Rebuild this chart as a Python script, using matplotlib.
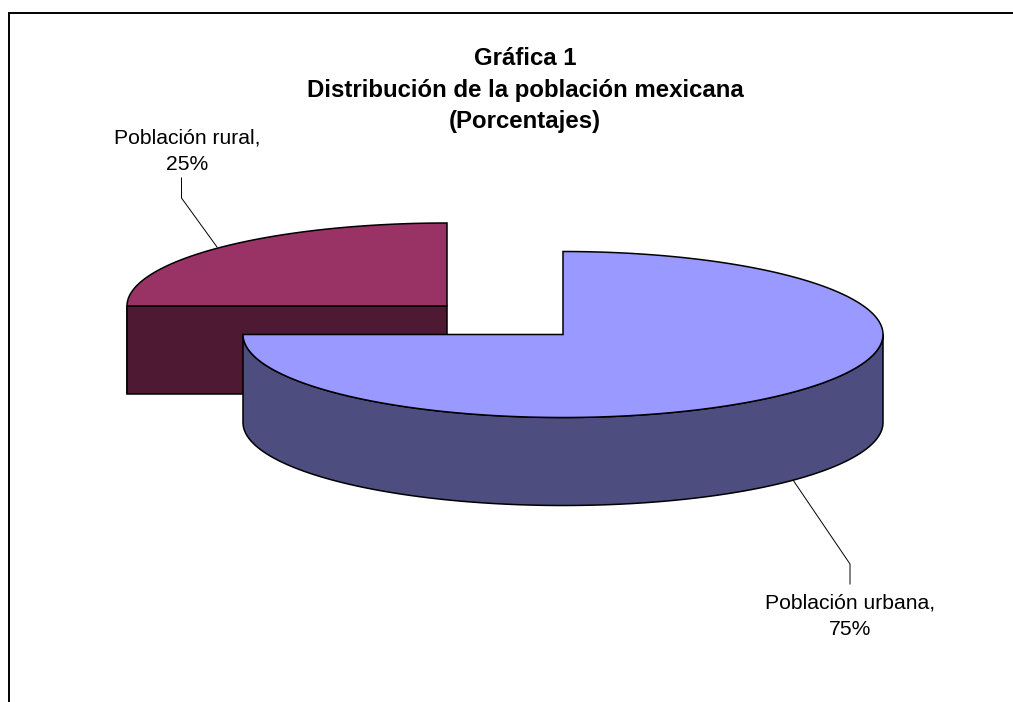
import numpy as np
import matplotlib
matplotlib.use('Agg')
import matplotlib.pyplot as plt
from matplotlib.patches import Polygon

plt.rcParams['font.family'] = ['Liberation Sans', 'DejaVu Sans']

# Data
labels = ['Población urbana,\n75%', 'Población rural,\n25%']
shares = [75, 25]
top_colors = ['#9999ff', '#993366']
side_colors = ['#4d4d80', '#4d1933']

title = 'Gráfica 1\nDistribución de la población mexicana\n(Porcentajes)'

W, H = 1013, 702
RX, RY, DEPTH = 320, 83, 88
EDGE = 1.1


def arc(cx, cy, a1, a2, n=200):
    t = np.radians(np.linspace(a1, a2, n))
    return np.column_stack([cx + RX * np.cos(t), cy - RY * np.sin(t)])


def draw_slice(ax, cx, cy, a1, a2, top, side, z):
    # a1 > a2, clockwise from a1 to a2
    rim = arc(cx, cy, a1, a2)
    # front wall is the part of the rim below the centre (sin < 0)
    t = np.linspace(a1, a2, 400)
    front = t[np.sin(np.radians(t)) <= 1e-9]
    if len(front):
        f = arc(cx, cy, front[0], front[-1], len(front))
        wall = np.vstack([f, (f + [0, DEPTH])[::-1]])
        ax.add_patch(Polygon(wall, closed=True, fc=side, ec='black', lw=EDGE,
                             joinstyle='round', zorder=z))
    # cut face looking at the viewer (flat edge going left from the centre)
    if abs(np.sin(np.radians(a1))) < 1e-9 and np.cos(np.radians(a1)) < 0:
        x0 = cx + RX * np.cos(np.radians(a1))
        face = [(x0, cy), (cx, cy), (cx, cy + DEPTH), (x0, cy + DEPTH)]
        ax.add_patch(Polygon(face, closed=True, fc=side, ec='black', lw=EDGE, zorder=z))
    ax.add_patch(Polygon(np.vstack([[cx, cy], rim]), closed=True, fc=top, ec='black',
                         lw=EDGE, joinstyle='miter', zorder=z + 1))


fig = plt.figure(figsize=(W / 100, H / 100), dpi=100)
ax = fig.add_axes([0, 0, 1, 1])
ax.set_xlim(0, W)
ax.set_ylim(H, 0)
ax.axis('off')

# chart frame, bottom and right are cut off by the image
ax.plot([9, 9, W], [H, 13, 13], color='black', lw=1.4, solid_joinstyle='miter', zorder=1)

# slices go clockwise from 12 o'clock
urban_a1 = 90
urban_a2 = urban_a1 - shares[0] / sum(shares) * 360
rural_a1 = urban_a2 + 360
rural_a2 = rural_a1 - shares[1] / sum(shares) * 360

draw_slice(ax, 447, 306, rural_a1, rural_a2, top_colors[1], side_colors[1], 2)
draw_slice(ax, 563, 334.5, urban_a1, urban_a2, top_colors[0], side_colors[0], 4)

# leader lines
ax.plot([217, 181.5, 181.5], [247, 198, 178], color='black', lw=0.7, zorder=3)
ax.plot([793, 850, 850], [480, 564, 584], color='black', lw=0.7, zorder=3)

ax.text(187, 151, labels[1], ha='center', va='center', fontsize=15.2,
        color='black', linespacing=1.5)
ax.text(850, 616, labels[0], ha='center', va='center', fontsize=15.2,
        color='black', linespacing=1.5)
ax.text(525, 90, title, ha='center', va='center', fontsize=17.3, fontweight='bold',
        color='black', linespacing=1.45)

fig.savefig('out.png', dpi=100, facecolor='white')
